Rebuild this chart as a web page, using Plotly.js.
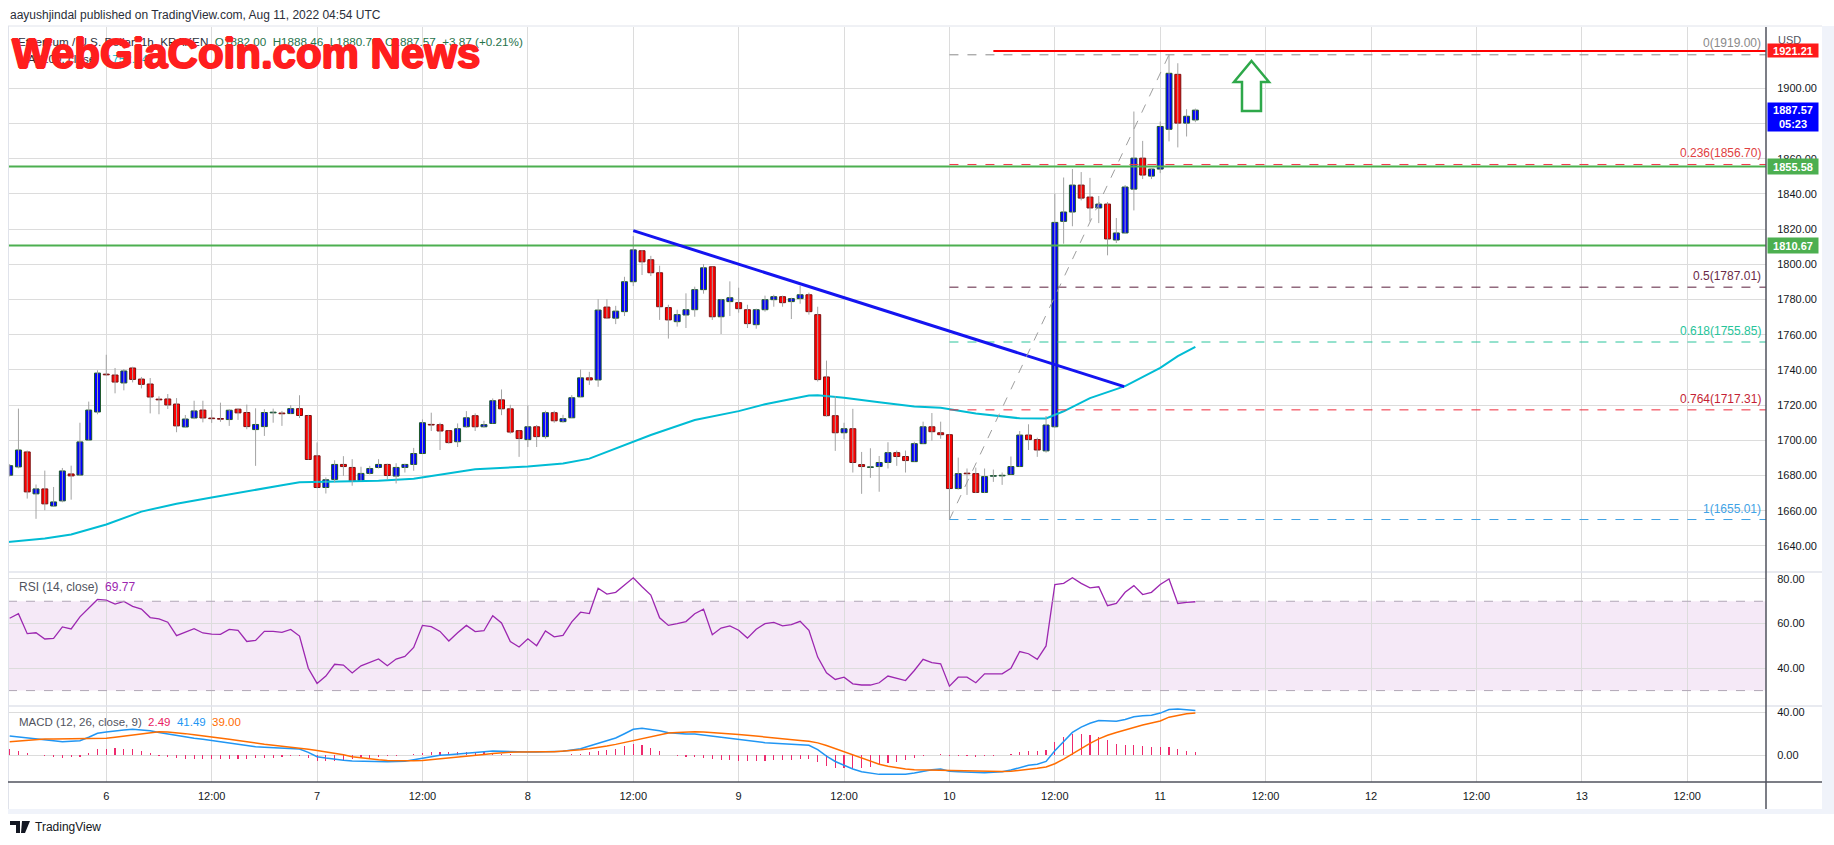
<!DOCTYPE html>
<html><head><meta charset="utf-8">
<script src="https://cdn.plot.ly/plotly-3.0.1.min.js"></script>
<style>html,body{margin:0;padding:0;background:#fff;}#chart{width:1834px;height:845px;}</style>
</head><body><div id="chart"></div>
<script>
// ---------- DATA (hourly candles, first candle = 2022-08-05 13:00 UTC) ----------
const open = [1680.2,1684.9,1693.4,1669.6,1672.4,1662.7,1665.6,1680.9,1680.3,1700.2,1716.1,
1737.6,1737.1,1732.6,1741.1,1734.8,1732.0,1723.4,1723.5,1720.6,1707.6,
1712.7,1717.2,1712.6,1712.4,1711.8,1717.7,1715.8,1706.1,1707.8,1715.6,
1715.5,1715.2,1718.0,1714.1,1691.2,1673.2,1677.8,1686.3,1684.6,1677.2,
1681.2,1684.6,1686.3,1679.7,1684.6,1686.3,1692.5,1709.0,1708.9,1705.5,
1699.2,1707.7,1714.0,1707.7,1709.6,1723.0,1717.9,1705.5,1700.4,1707.7,
1702.1,1715.7,1710.6,1712.8,1724.7,1735.5,1734.3,1775.7,1769.4,1773.1,
1790.1,1807.7,1802.6,1795.2,1775.4,1767.4,1771.2,1774.2,
1785.6,1798.6,1770.2,1778.8,1778.2,1774.2,1765.7,1774.2,1779.9,1781.6,
1778.8,1780.5,1782.7,1771.4,1736.0,1714.0,1704.3,1706.6,1686.2,1684.6,
1685.1,1687.4,1693.0,1690.8,1687.9,1698.1,1707.7,1704.3,1703.2,1672.6,
1681.2,1681.1,1670.4,1679.6,1679.8,1680.6,1685.1,1703.0,1700.4,1694.0,
1707.7,1824.4,1829.7,1845.0,1838.2,1832.0,1834.2,1813.8,1817.8,1842.7,
1860.3,1850.1,1854.1,1876.7,1907.9,1880.2,1882.00];
const high = [1686.5,1718.0,1694.2,1674.9,1682.8,1673.5,1684.3,1685.6,1710.0,1722.0,1739.8,
1748.6,1741.1,1740.5,1741.8,1736.0,1735.4,1725.0,1726.3,1724.0,1714.4,
1722.5,1722.5,1717.4,1721.4,1717.7,1718.0,1720.3,1718.2,1717.7,1718.0,
1716.7,1720.0,1725.6,1714.5,1698.8,1678.9,1688.7,1691.0,1689.3,1685.0,
1685.5,1689.3,1686.7,1687.0,1686.7,1695.7,1711.9,1715.7,1710.0,1705.5,
1709.6,1716.6,1715.3,1711.1,1723.8,1728.9,1720.2,1705.5,1719.8,1708.7,
1716.8,1716.8,1714.5,1725.7,1740.2,1738.9,1780.2,1780.2,1776.4,1792.9,
1816.0,1808.0,1804.8,1799.2,1777.0,1774.2,1783.5,1787.3,
1800.1,1798.6,1780.4,1790.3,1786.7,1777.0,1774.8,1782.2,1782.7,1782.2,
1781.0,1787.8,1783.9,1775.9,1745.3,1725.1,1710.0,1717.9,1693.4,1695.5,
1691.1,1698.9,1694.2,1694.2,1699.2,1710.6,1715.5,1710.6,1703.4,1690.2,
1684.0,1684.5,1684.0,1683.4,1681.7,1690.8,1705.3,1709.1,1701.5,1713.8,
1840.1,1849.3,1854.1,1852.4,1849.1,1838.8,1835.4,1826.3,1845.0,1886.8,
1870.1,1854.6,1881.1,1919.0,1914.2,1888.1,1888.46];
const low = [1679.5,1684.1,1666.9,1655.4,1660.3,1662.5,1664.8,1666.3,1680.0,1700.0,1714.8,
1736.7,1726.7,1728.4,1732.9,1729.5,1715.3,1714.8,1717.8,1704.6,1707.6,
1712.0,1710.2,1709.9,1710.5,1708.2,1711.6,1706.3,1685.5,1702.5,1710.0,
1708.2,1715.0,1712.7,1689.0,1672.7,1669.8,1676.1,1679.8,1674.2,1677.0,
1680.6,1684.0,1677.6,1675.5,1681.7,1682.7,1692.5,1705.3,1694.5,1698.1,
1696.2,1707.2,1705.3,1707.2,1709.6,1714.3,1703.8,1690.6,1696.2,1696.2,
1700.9,1710.0,1710.0,1712.8,1724.7,1731.5,1730.4,1769.4,1766.0,1770.6,
1787.6,1793.9,1793.3,1768.4,1757.8,1764.6,1763.8,1770.2,
1783.3,1768.4,1760.4,1770.6,1772.5,1763.8,1763.4,1773.1,1775.9,1775.9,
1768.9,1777.6,1771.4,1733.4,1713.5,1694.0,1700.6,1681.7,1669.6,1678.7,
1670.8,1684.0,1685.5,1681.7,1687.9,1698.1,1699.8,1700.9,1655.01,1672.0,
1669.0,1670.0,1670.0,1676.4,1674.7,1680.6,1685.0,1694.5,1690.6,1693.0,
1707.2,1811.7,1821.6,1836.3,1824.4,1823.4,1805.1,1812.1,1817.8,1830.6,
1848.4,1848.4,1851.8,1869.8,1866.4,1872.6,1880.70];
const close = [1685.6,1694.5,1670.7,1672.4,1663.9,1665.0,1682.6,1679.8,1699.1,1717.2,1738.2,
1737.2,1733.1,1739.4,1734.6,1731.8,1724.6,1723.0,1720.1,1708.2,1712.1,
1716.7,1712.7,1712.3,1712.0,1717.1,1715.6,1707.8,1709.0,1715.8,1716.0,
1715.1,1718.0,1714.1,1689.1,1673.2,1677.6,1686.3,1685.1,1676.6,1681.2,
1684.0,1686.3,1680.0,1684.6,1686.3,1692.5,1710.0,1708.7,1705.3,1698.7,
1706.6,1712.8,1707.7,1708.9,1722.5,1717.9,1704.7,1701.0,1707.7,1702.1,
1715.7,1711.1,1712.3,1724.2,1735.5,1734.3,1774.0,1769.5,1773.4,1790.1,
1808.2,1801.4,1795.2,1775.9,1768.4,1771.4,1774.2,1785.6,
1798.0,1770.2,1779.9,1781.0,1774.8,1766.3,1774.2,1779.9,1781.6,1778.2,
1780.5,1782.7,1773.1,1734.5,1714.0,1704.3,1706.6,1687.4,1685.1,1684.9,
1687.4,1693.0,1690.8,1688.5,1698.1,1707.7,1704.9,1703.2,1672.6,1681.1,
1681.0,1670.4,1679.4,1679.9,1680.1,1685.1,1703.0,1700.4,1694.5,1708.7,
1823.8,1829.7,1845.0,1837.6,1832.0,1834.2,1814.4,1817.8,1843.9,1860.3,
1850.7,1854.1,1878.3,1908.5,1880.2,1884.1,1887.57];

// 100-period moving average, read at selected hours (hours from 2022-08-06 00:00)
const maHours = [-11.2,-7,-4,0,4,8,12,16,20,22,27,31,35,42,48,52,55,58,60,62,67,72,75,80,81,84,88,92,95,99,104,107,109,112,116,120,122,124];
const maValues = [1642.3,1644.2,1646.5,1652.2,1659.5,1664.0,1667.5,1670.8,1674.5,1676.2,1676.6,1677.0,1678.2,1683.6,1685.1,1686.9,1689.6,1695.3,1699.4,1703.0,1711.5,1716.6,1720.5,1725.4,1725.6,1724.2,1721.6,1719.2,1718.5,1715.3,1712.5,1712.4,1716.5,1724.0,1730.8,1741.2,1747.8,1753.1];

const rsi = [62.4,64.4,55.5,55.9,53.1,53.4,58.5,57.6,63.0,67.1,70.8,
70.5,68.7,69.9,67.7,66.5,62.7,62.1,60.6,54.6,56.1,
57.7,55.8,55.3,55.2,57.4,57.0,52.0,52.5,56.5,56.5,
56.1,57.4,54.4,40.0,33.2,36.5,41.8,41.4,37.9,41.1,
42.7,44.2,41.1,44.1,45.3,49.3,59.2,58.6,56.5,52.2,
55.9,59.2,56.4,56.8,63.5,60.3,52.0,49.5,53.2,50.1,
56.7,54.1,54.7,60.8,65.1,64.5,75.8,73.2,74.0,77.3,
80.5,76.5,72.8,62.6,59.2,60.0,60.9,64.4,
66.5,55.0,58.0,59.0,57.0,53.5,57.5,60.0,60.5,59.0,
59.5,61.0,57.0,45.0,38.0,35.0,36.0,33.0,32.5,32.5,
33.5,36.5,35.5,34.5,39.0,44.0,42.5,42.0,32.0,36.0,
36.0,33.5,37.5,37.5,37.5,40.0,47.5,46.5,44.0,50.0,
77.5,78.0,80.5,78.0,76.0,76.5,68.0,69.0,74.0,77.0,
73.0,74.0,77.5,80.0,69.0,69.5,69.77];

const macd = [17.7,16.7,15.8,14.9,14.0,13.2,12.4,12.8,13.3,16.5,20.2,
21.4,22.6,23.3,23.9,23.3,22.6,21.0,19.5,18.0,16.4,
15.5,14.6,13.5,12.4,11.1,9.9,8.8,7.8,7.3,6.8,
6.5,6.2,5.6,2.5,-1.6,-2.8,-4.0,-4.8,-5.6,-5.9,
-6.2,-6.2,-6.2,-6.0,-5.9,-4.3,-2.8,-1.5,-0.3,0.3,
0.9,1.7,2.5,3.1,3.7,3.4,3.1,2.9,2.8,2.9,
3.1,3.2,3.4,4.6,5.9,8.4,10.9,13.3,15.8,19.8,
23.9,24.8,23.9,22.6,20.8,20.1,19.5,19.5,
18.5,17.0,16.0,15.0,14.0,13.0,12.0,11.5,11.0,10.5,
10.0,9.8,9.0,5.0,-1.0,-6.0,-9.5,-13.0,-15.5,-17.0,
-18.0,-18.0,-18.0,-17.8,-16.8,-15.0,-13.8,-13.0,-15.0,-15.5,
-15.8,-16.5,-16.5,-16.0,-15.5,-14.0,-11.5,-9.5,-8.5,-6.0,
4.0,13.0,21.0,26.0,29.5,32.0,32.0,31.5,33.0,35.5,
36.5,37.0,39.0,42.4,42.8,42.3,41.49];
const signal = [12.4,13.2,14.0,14.5,14.9,14.9,14.9,14.9,14.9,14.9,14.9,
15.5,16.5,17.6,18.6,19.8,20.8,21.7,21.3,20.8,19.9,
18.9,18.0,16.9,15.8,14.6,13.4,12.1,10.9,10.1,9.2,
8.4,7.3,6.3,5.3,4.2,3.0,1.9,0.2,-1.6,-2.7,
-3.7,-4.4,-5.0,-5.3,-5.6,-5.3,-5.0,-4.3,-3.5,-2.8,
-2.0,-1.1,-0.3,0.5,1.4,2.2,2.5,2.8,3.1,3.1,
3.1,3.1,3.6,4.0,4.9,5.8,6.8,8.4,9.9,11.6,
13.3,15.2,17.1,18.8,20.5,21.0,21.4,21.6,
21.4,21.0,20.5,20.0,19.2,18.4,17.5,16.7,15.9,15.1,
14.3,13.6,12.9,11.3,8.8,5.9,2.8,-0.4,-3.4,-6.1,
-8.5,-10.4,-11.9,-13.1,-13.8,-14.0,-14.0,-13.8,-14.0,-14.3,
-14.6,-15.0,-15.3,-15.4,-15.4,-15.1,-14.4,-13.4,-12.4,-11.1,
-8.1,-3.9,1.1,6.1,10.8,15.0,18.4,21.0,23.4,25.8,
28.0,29.8,31.6,35.2,37.0,38.4,39.0];
const hist = [5.3,3.5,1.8,0.4,-0.9,-1.7,-2.5,-2.1,-1.6,1.6,5.3,
5.9,6.1,5.7,5.3,3.5,1.8,-0.7,-1.8,-2.8,-3.5,
-3.4,-3.4,-3.4,-3.4,-3.5,-3.5,-3.3,-3.1,-2.8,-2.4,
-1.9,-1.1,-0.7,-2.8,-5.8,-5.8,-5.9,-5.0,-4.0,-3.2,
-2.5,-1.8,-1.2,-0.7,-0.3,1.0,2.2,2.8,3.2,3.1,
2.9,2.8,2.8,2.6,2.3,1.2,0.6,0.1,-0.3,-0.2,
0.05,0.1,-0.2,0.6,1.0,2.6,4.1,4.9,5.9,8.2,
10.6,9.6,6.8,3.8,0.3,-0.9,-1.9,-2.1,
-2.9,-4.0,-4.5,-5.0,-5.2,-5.4,-5.5,-5.2,-4.9,-4.6,
-4.3,-3.8,-3.9,-6.3,-9.8,-11.9,-12.3,-12.6,-12.1,-10.9,
-9.5,-7.6,-6.1,-4.7,-3.0,-1.0,0.2,0.8,-1.0,-1.2,
-1.2,-1.5,-1.2,-0.6,-0.1,1.1,2.9,3.9,3.9,5.1,
12.1,16.9,19.9,19.9,18.7,17.0,13.6,10.5,9.6,9.7,
8.5,7.2,7.4,7.2,5.8,3.9,2.49];

// Fibonacci retracement (drawn from hour 96 to the right edge)
const fibLevels = ['0','0.236','0.5','0.618','0.764','1'];
const fibPrices = [1919.00,1856.70,1787.01,1755.85,1717.31,1655.01];
const fibLineColors = ['#8a8a8a','#f23645','#5a1e3c','#2bc49b','#ef2b3a','#3fa3e6'];
const fibTextColors = ['#8a8a8a','#e0403f','#6a2a48','#26c49a','#c41f35','#3fa3e6'];
const supportLevels = [1855.58,1810.67];
const resistanceLevel = 1921.21;
const lastPrice = 1887.57, countdown = '05:23';

const xTickLabels = ['6','12:00','7','12:00','8','12:00','9','12:00','10','12:00','11','12:00','12','12:00','13','12:00'];
const priceTicks = [1640,1660,1680,1700,1720,1740,1760,1780,1800,1820,1840,1860,1880,1900];
const rsiTicks = [40,60,80];
const macdTicks = [0,40];

// ---------- helpers ----------
const H = 3600e3;
const T0 = Date.UTC(2022,7,5,13,0,0);      // first candle
const D6 = Date.UTC(2022,7,6,0,0,0);       // "6" tick
function fmt(ms){const d=new Date(ms);const p=n=>String(n).padStart(2,'0');
  return d.getUTCFullYear()+'-'+p(d.getUTCMonth()+1)+'-'+p(d.getUTCDate())+' '+p(d.getUTCHours())+':'+p(d.getUTCMinutes())+':'+p(d.getUTCSeconds());}
const hd = h => fmt(D6 + h*H);
const times = open.map((_,i)=>fmt(T0 + i*H));
const xL = hd(-11.19), xR = hd(188.97);

// wicks
const wx=[], wy=[];
times.forEach((t,i)=>{wx.push(t,t,null); wy.push(low[i],high[i],null);});
const up = close.map((c,i)=>c>=open[i]);
const bodyBase = open.map((o,i)=>Math.min(o,close[i]));
const bodyLen = open.map((o,i)=>Math.max(Math.abs(close[i]-o),0.35));

const traces = [
 {type:'scatter',mode:'lines',x:maHours.map(hd),y:maValues,line:{color:'#00bcd4',width:2},xaxis:'x',yaxis:'y',hoverinfo:'skip'},
 {type:'scatter',mode:'lines',x:wx,y:wy,line:{color:'#a3a3a3',width:1},connectgaps:false,xaxis:'x',yaxis:'y',hoverinfo:'skip'},
 {type:'bar',x:times,y:bodyLen,base:bodyBase,width:0.68*H,
  marker:{color:up.map(u=>u?'#0000ff':'#ff0000'),line:{color:up.map(u=>u?'#1e5a2a':'#7a1010'),width:1}},
  xaxis:'x',yaxis:'y',hoverinfo:'skip'},
 {type:'scatter',mode:'lines',x:times,y:rsi,line:{color:'#9c27b0',width:1.3},xaxis:'x',yaxis:'y2',hoverinfo:'skip'},
 {type:'bar',x:times,y:hist,width:0.13*H,marker:{color:'#ee2a6e',line:{width:0}},xaxis:'x',yaxis:'y3',hoverinfo:'skip'},
 {type:'scatter',mode:'lines',x:times,y:macd,line:{color:'#2196f3',width:1.5},xaxis:'x',yaxis:'y3',hoverinfo:'skip'},
 {type:'scatter',mode:'lines',x:times,y:signal,line:{color:'#ff6d00',width:1.5},xaxis:'x',yaxis:'y3',hoverinfo:'skip'}
];

// ---------- geometry ----------
const ML=8, MR=68, MT=27, MB=63, PW=1834-ML-MR, PH=845-MT-MB;
const px = x => (x-ML)/PW;           // page px -> paper x
const py = y => (845-MB-y)/PH;       // page px -> paper y
const dPriceTop = py(572), dRsiTop = py(706);

const shapes = [];
// RSI band
shapes.push({type:'rect',xref:'paper',x0:0,x1:1,yref:'y2',y0:30,y1:70,fillcolor:'rgba(156,39,176,0.10)',line:{width:0},layer:'below'});
[30,70].forEach(v=>shapes.push({type:'line',xref:'paper',x0:0,x1:1,yref:'y2',y0:v,y1:v,line:{color:'#b0a6b6',width:1,dash:'dash'}}));
// fib lines
fibPrices.forEach((p,i)=>shapes.push({type:'line',xref:'x',yref:'y',x0:hd(96),x1:xR,y0:p,y1:p,line:{color:fibLineColors[i],width:1,dash:'dash'}}));
// support lines
supportLevels.forEach(p=>shapes.push({type:'line',xref:'x',yref:'y',x0:xL,x1:xR,y0:p,y1:p,line:{color:'#4caf50',width:2}}));
// resistance
shapes.push({type:'line',xref:'x',yref:'y',x0:hd(101),x1:xR,y0:resistanceLevel,y1:resistanceLevel,line:{color:'#ff0000',width:2}});
// trend line
shapes.push({type:'line',xref:'x',yref:'y',x0:hd(60),y0:1819.1,x1:hd(115.9),y1:1730.5,line:{color:'#1414f0',width:3}});
// fib diagonal
shapes.push({type:'line',xref:'x',yref:'y',x0:hd(96),y0:1655.01,x1:hd(121),y1:1919.0,line:{color:'#9e9e9e',width:1,dash:'dash'}});
// arrow
const ap=[[1251.5,61],[1269,82],[1261,82],[1261,111],[1242,111],[1242,82],[1234,82]];
shapes.push({type:'path',xref:'paper',yref:'paper',path:'M'+ap.map(p=>px(p[0]).toFixed(5)+','+py(p[1]).toFixed(5)).join(' L')+' Z',
  fillcolor:'#ffffff',line:{color:'#2ea84a',width:2.5}});
// frame
const pxR = px(1822);
shapes.push({type:'line',xref:'paper',yref:'paper',x0:0,x1:pxR,y0:py(26),y1:py(26),line:{color:'#e0e3eb',width:1}});
shapes.push({type:'line',xref:'paper',yref:'paper',x0:px(8.5),x1:px(8.5),y0:py(26),y1:py(809),line:{color:'#e0e3eb',width:1}});
shapes.push({type:'line',xref:'paper',yref:'paper',x0:0,x1:pxR,y0:dPriceTop,y1:dPriceTop,line:{color:'#e0e3eb',width:1.5}});
shapes.push({type:'line',xref:'paper',yref:'paper',x0:0,x1:pxR,y0:dRsiTop,y1:dRsiTop,line:{color:'#e0e3eb',width:1.5}});
shapes.push({type:'rect',xref:'paper',yref:'paper',x0:pxR,x1:px(1834),y0:py(26),y1:py(814),fillcolor:'#f0f3fa',line:{width:0}});
shapes.push({type:'rect',xref:'paper',yref:'paper',x0:0,x1:px(1834),y0:py(809),y1:py(814),fillcolor:'#f0f3fa',line:{width:0}});
shapes.push({type:'line',xref:'paper',yref:'paper',x0:0,x1:pxR,y0:0,y1:0,line:{color:'#50535e',width:1.5}});
shapes.push({type:'line',xref:'paper',yref:'paper',x0:1,x1:1,y0:py(809),y1:py(27),line:{color:'#50535e',width:1.5}});
// TV logo
shapes.push({type:'path',xref:'paper',yref:'paper',fillcolor:'#131722',line:{width:0},
  path:`M${px(10)},${py(821)} L${px(20)},${py(821)} L${px(20)},${py(833)} L${px(16)},${py(833)} L${px(16)},${py(825)} L${px(10)},${py(825)} Z`});
shapes.push({type:'path',xref:'paper',yref:'paper',fillcolor:'#131722',line:{width:0},
  path:`M${px(22)},${py(821)} L${px(30)},${py(821)} L${px(25)},${py(833)} L${px(21)},${py(833)} Z`});

const F = 'Liberation Sans, Arial, sans-serif';
const ann = [];
ann.push({xref:'paper',yref:'paper',x:px(8),y:py(15),xanchor:'left',yanchor:'middle',showarrow:false,
  text:'aayushjindal published on TradingView.com, Aug 11, 2022 04:54 UTC',font:{family:F,size:12,color:'#2a2e39'}});
ann.push({xref:'paper',yref:'paper',x:px(16),y:py(42),xanchor:'left',yanchor:'middle',showarrow:false,
  text:"Ethereum / U.S. Dollar, 1h, KRAKEN&nbsp;&nbsp;<span style='color:#26734a'>O1882.00&nbsp;&nbsp;H1888.46&nbsp;&nbsp;L1880.70&nbsp;&nbsp;C1887.57&nbsp;&nbsp;+3.87 (+0.21%)</span>",
  font:{family:F,size:11.7,color:'#2a2e39'}});
ann.push({xref:'paper',yref:'paper',x:px(16),y:py(59),xanchor:'left',yanchor:'middle',showarrow:false,
  text:"MA (100, close)&nbsp;&nbsp;<span style='color:#00bcd4'>1752.54</span>",font:{family:F,size:11.7,color:'#2a2e39'}});
ann.push({xref:'paper',yref:'paper',x:px(17),y:py(587),xanchor:'left',yanchor:'middle',showarrow:false,
  text:"RSI (14, close)&nbsp;&nbsp;<span style='color:#9c27b0'>69.77</span>",font:{family:F,size:12,color:'#50535e'}});
ann.push({xref:'paper',yref:'paper',x:px(17),y:py(722),xanchor:'left',yanchor:'middle',showarrow:false,
  text:"MACD (12, 26, close, 9)&nbsp;&nbsp;<span style='color:#e91e63'>2.49</span>&nbsp;&nbsp;<span style='color:#2196f3'>41.49</span>&nbsp;&nbsp;<span style='color:#ff6d00'>39.00</span>",
  font:{family:F,size:11.5,color:'#50535e'}});
// fib labels
fibPrices.forEach((p,i)=>ann.push({xref:'paper',yref:'y',x:1,y:p,xanchor:'right',yanchor:'bottom',xshift:-3,yshift:i===0?3:2,showarrow:false,
  text:fibLevels[i]+'('+p.toFixed(2)+')',font:{family:F,size:12,color:fibTextColors[i]}}));
// axis labels
ann.push({xref:'paper',yref:'paper',x:px(1776),y:py(40),xanchor:'left',yanchor:'middle',showarrow:false,text:'USD',font:{family:F,size:11,color:'#50535e'}});
const box=(p,txt,bg,h)=>({xref:'paper',yref:'y',x:1,y:p,xanchor:'left',yanchor:'middle',xshift:1,showarrow:false,
  text:txt,bgcolor:bg,width:50,height:h,borderpad:0,align:'center',font:{family:F,size:11,color:'#ffffff',weight:'bold'}});
ann.push(box(resistanceLevel,resistanceLevel.toFixed(2),'#ff1a1a',13));
ann.push(Object.assign(box(lastPrice,lastPrice.toFixed(2)+'<br>'+countdown,'#0000ff',28),{yanchor:'top',yshift:8}));
supportLevels.forEach(p=>ann.push(box(p,p.toFixed(2),'#4caf50',15)));
// footer
ann.push({xref:'paper',yref:'paper',x:px(33),y:py(827),xanchor:'left',yanchor:'middle',showarrow:false,text:'TradingView',font:{family:F,size:12,color:'#131722'}});
// watermark
ann.push({xref:'paper',yref:'paper',x:px(10),y:py(53),xanchor:'left',yanchor:'middle',showarrow:false,
  text:'WebGiaCoin.com News',font:{family:'Liberation Sans, Arial, sans-serif',size:42,color:'#ff1e1e',weight:'bold',
  shadow:'1px 0px 0px #ff1e1e, -1px 0px 0px #ff1e1e, 0px 1px 0px #ff1e1e, 0px -1px 0px #ff1e1e'}});

const tickDates = xTickLabels.map((_,k)=>hd(12*k));
const grid = '#dcdcdc';
const layout = {
  width:1834,height:845,margin:{l:ML,r:MR,t:MT,b:MB,pad:0},
  paper_bgcolor:'#ffffff',plot_bgcolor:'#ffffff',showlegend:false,hovermode:false,bargap:0,
  font:{family:F,size:11,color:'#131722'},
  xaxis:{type:'date',range:[xL,xR],anchor:'y3',tickmode:'array',tickvals:tickDates,ticktext:xTickLabels,
    showgrid:true,gridcolor:grid,gridwidth:1,zeroline:false,showline:false,ticks:'outside',ticklen:4,tickcolor:'rgba(0,0,0,0)',
    tickfont:{family:F,size:11,color:'#131722'},fixedrange:true},
  yaxis:{domain:[dPriceTop,1],range:[1625.2,1934.8],side:'right',anchor:'x',tickmode:'array',tickvals:priceTicks,ticktext:priceTicks.map(v=>v.toFixed(2)),
    showgrid:true,gridcolor:grid,zeroline:false,showline:false,ticks:'outside',ticklen:8,tickcolor:'rgba(0,0,0,0)',tickfont:{family:F,size:11,color:'#131722'}},
  yaxis2:{domain:[dRsiTop,dPriceTop],range:[23.1,83.1],side:'right',anchor:'x',tickmode:'array',tickvals:rsiTicks,ticktext:rsiTicks.map(v=>v.toFixed(2)),
    showgrid:true,gridcolor:grid,zeroline:false,showline:false,ticks:'outside',ticklen:8,tickcolor:'rgba(0,0,0,0)',tickfont:{family:F,size:11,color:'#131722'}},
  yaxis3:{domain:[0,dRsiTop],range:[-25.1,45.6],side:'right',anchor:'x',tickmode:'array',tickvals:macdTicks,ticktext:macdTicks.map(v=>v.toFixed(2)),
    showgrid:true,gridcolor:grid,zeroline:false,showline:false,ticks:'outside',ticklen:8,tickcolor:'rgba(0,0,0,0)',tickfont:{family:F,size:11,color:'#131722'}},
  shapes:shapes,annotations:ann
};
Plotly.newPlot('chart',traces,layout,{displayModeBar:false,staticPlot:true});
</script></body></html>
